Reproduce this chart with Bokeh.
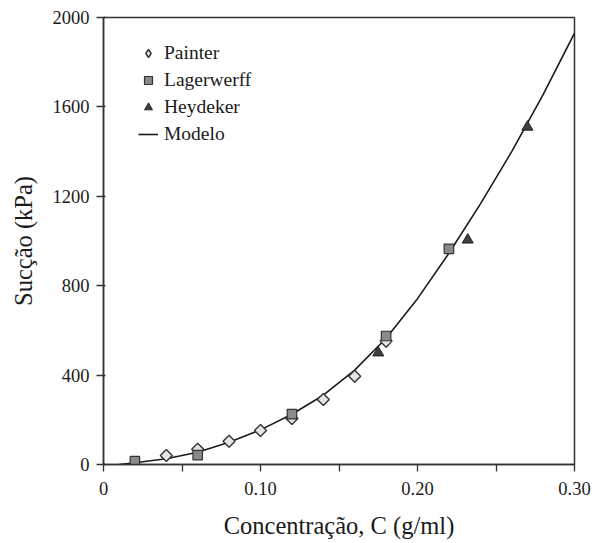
import math
from bokeh.plotting import figure
from bokeh.models import Range1d, FixedTicker, CustomJSTickFormatter, Legend, LegendItem
from bokeh.embed import file_html
from bokeh.resources import INLINE

# Data
painter_c = [0.04, 0.06, 0.08, 0.10, 0.12, 0.14, 0.16, 0.18]
painter_s = [40, 68, 104, 152, 206, 291, 395, 552]

lager_c = [0.02, 0.06, 0.12, 0.18, 0.22]
lager_s = [15, 42, 225, 575, 965]

heyd_c = [0.175, 0.232, 0.27]
heyd_s = [500, 1005, 1510]

model_c = [0.01, 0.02, 0.04, 0.06, 0.08, 0.10, 0.12, 0.14, 0.16, 0.18, 0.20, 0.22, 0.24, 0.26, 0.28, 0.30]
model_s = [0, 8, 26, 55, 100, 155, 225, 310, 422, 565, 742, 945, 1165, 1400, 1655, 1930]

x_major = [0, 0.10, 0.20, 0.30]
x_minor = [0.05, 0.15, 0.25]
y_ticks = [0, 400, 800, 1200, 1600, 2000]

FONT = "Liberation Serif"
TXT = "#1a1a1a"

p = figure(width=592, height=543, output_backend="svg", toolbar_location=None,
           x_range=Range1d(0, 0.30), y_range=Range1d(0, 2000),
           min_border_left=103, min_border_right=18, min_border_top=17, min_border_bottom=79)

p.background_fill_color = "white"
p.border_fill_color = "white"
p.outline_line_color = "#333333"
p.outline_line_width = 1.5
p.xgrid.visible = False
p.ygrid.visible = False

line_r = p.line(model_c, model_s, line_color="#1a1a1a", line_width=1.6)
pa_r = p.scatter(painter_c, painter_s, marker="square", angle=math.pi / 4, size=8.5,
                 fill_color="#e4e4e4", line_color="#333333", line_width=1.4)
la_r = p.scatter(lager_c, lager_s, marker="square", size=9.5,
                 fill_color="#8a8a8a", line_color="#333333", line_width=1.2)
he_r = p.scatter(heyd_c, heyd_s, marker="triangle", size=11,
                 fill_color="#404040", line_color="#222222", line_width=1.0)

# hidden twin of the Painter series, used only for its legend glyph
pa_leg = p.scatter(painter_c, painter_s, marker="diamond", size=10,
                   fill_color="#e4e4e4", line_color="#333333", line_width=1.4,
                   visible=False)

# axes
xa = p.xaxis[0]
xa.ticker = FixedTicker(ticks=x_major, minor_ticks=x_minor)
xa.formatter = CustomJSTickFormatter(code="return tick == 0 ? '0' : tick.toFixed(2);")
xa.axis_label = "Concentração, C (g/ml)"
xa.major_tick_in = 0
xa.major_tick_out = 7
xa.minor_tick_in = 0
xa.minor_tick_out = 7
xa.major_label_standoff = 10
xa.axis_label_standoff = 14

ya = p.yaxis[0]
ya.ticker = FixedTicker(ticks=y_ticks)
ya.axis_label = "Sucção (kPa)"
ya.major_tick_in = 2
ya.major_tick_out = 7
ya.major_label_standoff = 7
ya.axis_label_standoff = 13

for ax in (xa, ya):
    ax.axis_line_color = "#333333"
    ax.axis_line_width = 1.5
    ax.major_tick_line_color = "#333333"
    ax.major_tick_line_width = 1.3
    ax.minor_tick_line_width = 1.3
    ax.major_label_text_font = FONT
    ax.major_label_text_font_size = "18.5px"
    ax.major_label_text_color = TXT
    ax.axis_label_text_font = FONT
    ax.axis_label_text_font_size = "24.5px"
    ax.axis_label_text_font_style = "normal"
    ax.axis_label_text_color = TXT
xa.minor_tick_line_color = "#333333"
ya.minor_tick_line_color = None

legend = Legend(items=[
    LegendItem(label="Painter", renderers=[pa_leg]),
    LegendItem(label="Lagerwerff", renderers=[la_r]),
    LegendItem(label="Heydeker", renderers=[he_r]),
    LegendItem(label="Modelo", renderers=[line_r]),
], location=(35, 319))
legend.border_line_color = None
legend.background_fill_alpha = 0
legend.inactive_fill_alpha = 0
legend.label_text_font = FONT
legend.label_text_font_size = "19.5px"
legend.label_text_color = TXT
legend.glyph_width = 20
legend.glyph_height = 20
legend.label_height = 22
legend.label_standoff = 6
legend.spacing = 5
legend.padding = 0
legend.margin = 0
p.add_layout(legend, "center")

open("out.html", "w").write(file_html(p, INLINE))
